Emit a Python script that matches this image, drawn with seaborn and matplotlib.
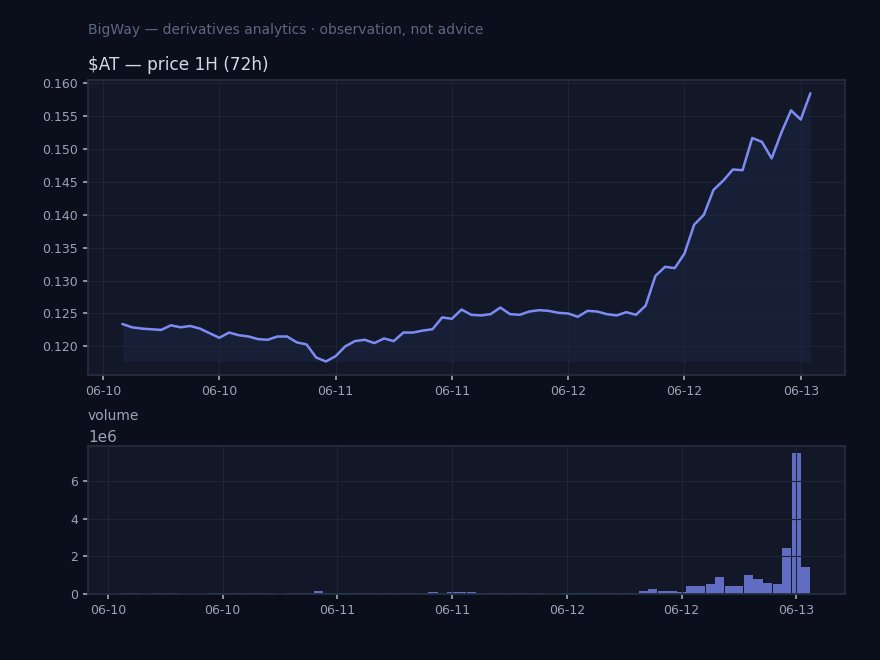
import numpy as np
import pandas as pd
import matplotlib
matplotlib.use('Agg')
import matplotlib.pyplot as plt
import matplotlib.dates as mdates
import seaborn as sns

# hourly price, 72 points
price = [0.1234, 0.1229, 0.1227, 0.1226, 0.1225, 0.1232, 0.1229, 0.1231, 0.1227, 0.1220,
         0.1213, 0.1221, 0.1217, 0.1215, 0.1211, 0.1210, 0.1215, 0.1215, 0.1206, 0.1203,
         0.1183, 0.1177, 0.1185, 0.1200, 0.1208, 0.1210, 0.1205, 0.1212, 0.1208, 0.1221,
         0.1221, 0.1224, 0.1226, 0.1244, 0.1242, 0.1256, 0.1248, 0.1247, 0.1249, 0.1259,
         0.1249, 0.1248, 0.1253, 0.1255, 0.1254, 0.1251, 0.1250, 0.1245, 0.1254, 0.1253,
         0.1249, 0.1247, 0.1252, 0.1248, 0.1262, 0.1307, 0.1321, 0.1319, 0.1341, 0.1385,
         0.1400, 0.1438, 0.1452, 0.1469, 0.1468, 0.1517, 0.1511, 0.1486, 0.1525, 0.1559,
         0.1545, 0.1585]

# hourly volume (millions)
volume_m = [0.06, 0.06, 0.0, 0.06, 0.06, 0.06, 0.0, 0.0, 0.0, 0.05,
            0.05, 0.06, 0.06, 0.06, 0.06, 0.06, 0.0, 0.06, 0.06, 0.06,
            0.16, 0.06, 0.06, 0.06, 0.05, 0.05, 0.05, 0.06, 0.06, 0.06,
            0.06, 0.06, 0.10, 0.06, 0.11, 0.11, 0.11, 0.06, 0.05, 0.05,
            0.05, 0.05, 0.05, 0.05, 0.0, 0.0, 0.05, 0.05, 0.05, 0.05,
            0.05, 0.05, 0.06, 0.06, 0.16, 0.27, 0.16, 0.16, 0.10, 0.42,
            0.42, 0.53, 0.90, 0.42, 0.42, 1.00, 0.80, 0.58, 0.53, 2.44,
            7.49, 1.43]

times = pd.date_range('2025-06-10 02:00', periods=len(price), freq='h')
df = pd.DataFrame({'time': times, 'price': price,
                   'volume': np.array(volume_m) * 1e6})

BG = '#0b0f1b'
FACE = '#121827'
GRID = '#1d2435'
SPINE = '#262d3e'
LINE = '#7d8cf5'
FILL = '#4a68d0'
BAR = '#606dc2'
TICK = '#9aa3b6'

sns.set_theme(style='dark', rc={
    'figure.facecolor': BG,
    'axes.facecolor': FACE,
    'axes.edgecolor': SPINE,
    'axes.grid': True,
    'grid.color': GRID,
    'grid.linewidth': 0.8,
    'axes.axisbelow': 'line',
    'xtick.color': TICK,
    'ytick.color': TICK,
    'xtick.bottom': True,
    'ytick.left': True,
    'xtick.major.size': 3.5,
    'ytick.major.size': 3.5,
    'xtick.labelsize': 9,
    'ytick.labelsize': 9,
    'text.color': TICK,
    'axes.labelcolor': TICK,
})
plt.rcParams['font.family'] = ['DejaVu Sans']

fig = plt.figure(figsize=(8.8, 6.6), dpi=100)
ax1 = fig.add_axes([0.1, 0.432, 0.86, 0.447])
ax2 = fig.add_axes([0.1, 0.1, 0.86, 0.224])

# price
sns.lineplot(data=df, x='time', y='price', ax=ax1, color=LINE, linewidth=1.8)
ax1.fill_between(df['time'], df['price'], df['price'].min(), color=FILL, alpha=0.09, linewidth=0)
ax1.set_xlabel('')
ax1.set_ylabel('')
ax1.set_title(r'\$AT — price 1H (72h)', loc='left', fontsize=12.2, color='#d3d9e6', pad=7)

# volume
ax2.bar(df['time'], df['volume'], width=0.04, color=BAR, linewidth=0)
ax2.set_title('volume', loc='left', fontsize=10, color=TICK, pad=7)
ax2.yaxis.get_offset_text().set_color(TICK)
ax2.yaxis.get_offset_text().set_fontsize(11)

for ax in (ax1, ax2):
    ax.xaxis.set_major_locator(mdates.HourLocator(byhour=[0, 12]))
    ax.xaxis.set_major_formatter(mdates.DateFormatter('%m-%d'))
    for s in ax.spines.values():
        s.set_color(SPINE)

fig.text(0.1, 1 - 30 / 660, 'BigWay — derivatives analytics · observation, not advice',
         fontsize=10, color='#5d6782', va='center', ha='left')

fig.savefig('out.png', dpi=100, facecolor=BG)
